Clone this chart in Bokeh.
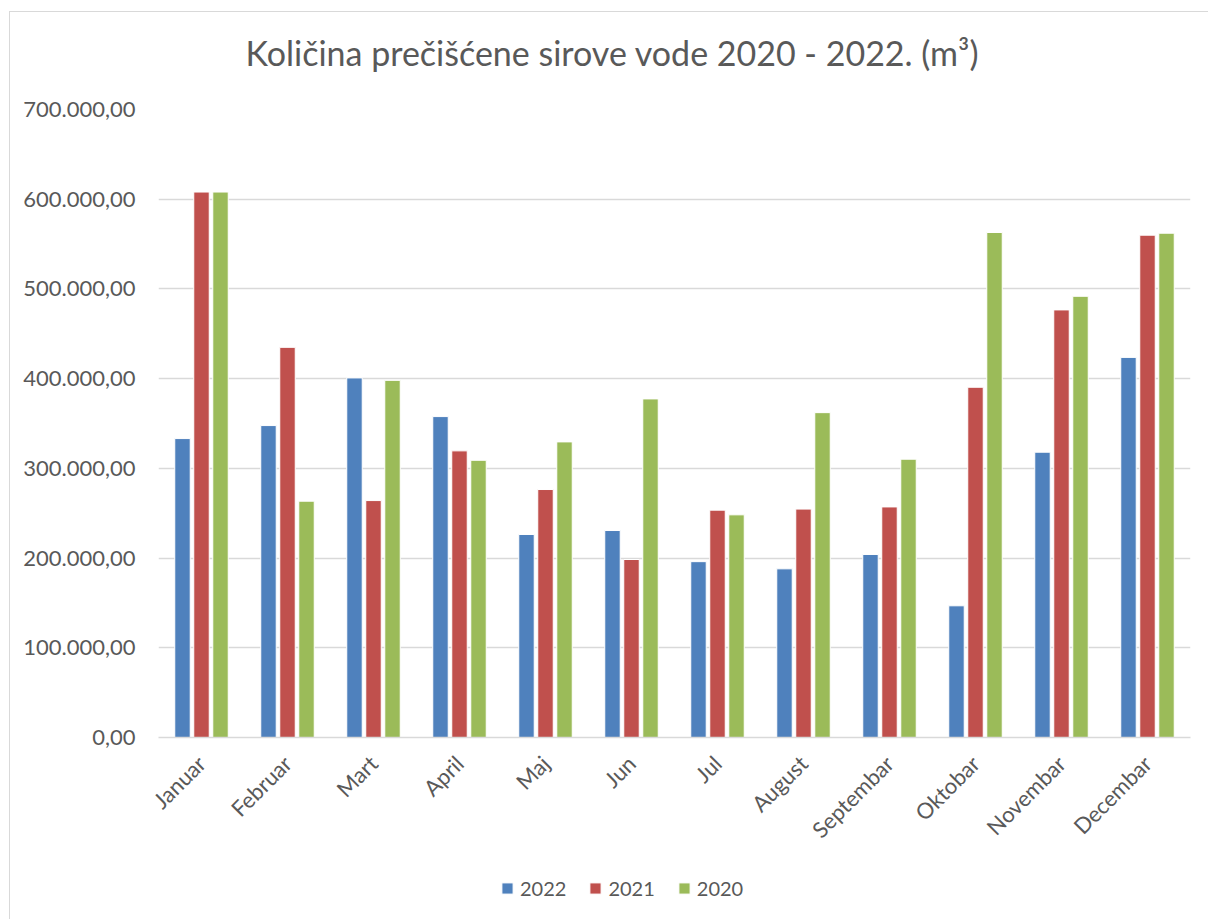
from bokeh.plotting import figure
from bokeh.models import FactorRange, Range1d, FixedTicker, Legend, LegendItem, ColumnDataSource
from bokeh.layouts import column
from bokeh.transform import dodge
from bokeh.embed import file_html
from bokeh.resources import INLINE
import math

title_text = "Količina prečišćene sirove vode 2020 - 2022. (m³)"
months = ["Januar", "Februar", "Mart", "April", "Maj", "Jun", "Jul",
          "August", "Septembar", "Oktobar", "Novembar", "Decembar"]
years = ["2022", "2021", "2020"]
v2022 = [333200, 347700, 400800, 357700, 226300, 230700, 196000, 188000, 204000, 146800, 318000, 423700]
v2021 = [608000, 434900, 264100, 319500, 276400, 198400, 253400, 254600, 257000, 390400, 476600, 559900]
v2020 = [608000, 263400, 398100, 309000, 329500, 377400, 248200, 362100, 310200, 562900, 491800, 562100]
y_ticks = [0, 100000, 200000, 300000, 400000, 500000, 600000, 700000]
y_tick_labels = ["0,00", "100.000,00", "200.000,00", "300.000,00",
                 "400.000,00", "500.000,00", "600.000,00", "700.000,00"]

colors = ["#4F81BD", "#C0504D", "#9BBB59"]
TEXT = "#595959"
GRID = "#d9d9d9"
FONT = "Lato"

src = ColumnDataSource(dict(month=months, y2022=v2022, y2021=v2021, y2020=v2020))
offsets = [-0.221, 0.0, 0.221]
fields = ["y2022", "y2021", "y2020"]

# ---- title strip ----
tf = figure(width=1198, height=77, output_backend="svg", toolbar_location=None,
            x_range=Range1d(0, 1), y_range=Range1d(0, 1),
            x_axis_type=None, y_axis_type=None,
            min_border_left=148, min_border_right=18, min_border_top=60, min_border_bottom=0)
tf.outline_line_color = None
tf.xgrid.visible = False
tf.ygrid.visible = False
tf.title.text = title_text
tf.title.align = "left"
tf.title.offset = 87
tf.title.standoff = 0
tf.title.text_font = FONT
tf.title.text_font_size = "34px"
tf.title.text_font_style = "normal"
tf.title.text_color = TEXT

# ---- main chart ----
p = figure(x_range=FactorRange(*months), y_range=Range1d(0, 700000),
           width=1198, height=770, output_backend="svg", toolbar_location=None,
           min_border_left=148, min_border_right=18, min_border_top=20, min_border_bottom=122)

for off, f, c in zip(offsets, fields, colors):
    p.vbar(x=dodge("month", off, range=p.x_range), top=f, width=0.18, source=src,
           fill_color=c, line_color="white", line_width=1)

p.outline_line_color = None
p.background_fill_color = "white"
p.border_fill_color = "white"

p.xgrid.grid_line_color = None
p.ygrid.grid_line_color = GRID
p.ygrid.grid_line_width = 1.5

p.yaxis.ticker = FixedTicker(ticks=y_ticks)
p.yaxis.major_label_overrides = {t: s for t, s in zip(y_ticks, y_tick_labels)}
p.yaxis.axis_line_color = None
p.yaxis.major_tick_line_color = None
p.yaxis.minor_tick_line_color = None
p.yaxis.major_tick_out = 0
p.yaxis.major_tick_in = 0
p.yaxis.minor_tick_out = 0
p.yaxis.major_label_standoff = 23
p.yaxis.major_label_text_font = FONT
p.yaxis.major_label_text_font_size = "22px"
p.yaxis.major_label_text_color = TEXT

p.xaxis.axis_line_color = GRID
p.xaxis.axis_line_width = 1.5
p.xaxis.major_tick_line_color = None
p.xaxis.minor_tick_line_color = None
p.xaxis.major_tick_out = 0
p.xaxis.major_tick_in = 0
p.xaxis.major_label_orientation = math.pi / 4
p.xaxis.major_label_standoff = 22
p.xaxis.major_label_text_font = FONT
p.xaxis.major_label_text_font_size = "22px"
p.xaxis.major_label_text_color = TEXT

# ---- legend strip (zero-height bars of the same series kept out of view; only the legend shows) ----
lf = figure(width=1198, height=60, output_backend="svg", toolbar_location=None,
            x_range=p.x_range, y_range=Range1d(1000000, 1100000),
            x_axis_type=None, y_axis_type=None,
            min_border_left=148, min_border_right=18, min_border_top=0, min_border_bottom=0)
lf.outline_line_color = None
lf.xgrid.visible = False
lf.ygrid.visible = False
lrs = [lf.vbar(x=dodge("month", off, range=p.x_range), top=f, bottom=f, width=0.18, source=src,
               fill_color=c, line_color="white", line_width=1)
       for off, f, c in zip(offsets, fields, colors)]
legend = Legend(items=[LegendItem(label=y, renderers=[r]) for y, r in zip(years, lrs)],
                orientation="horizontal", location=(342, 19))
legend.label_text_font = FONT
legend.label_text_font_size = "20px"
legend.label_text_color = TEXT
legend.glyph_width = 14
legend.glyph_height = 14
legend.label_standoff = 6
legend.spacing = 22
legend.padding = 0
legend.margin = 0
legend.border_line_alpha = 0
legend.background_fill_alpha = 0
lf.add_layout(legend)

layout = column(tf, p, lf, margin=(11, 0, 0, 9), spacing=0,
                styles={"border-left": "1px solid #d9d9d9", "border-top": "1px solid #d9d9d9"})

open("out.html", "w").write(file_html(layout, INLINE))
